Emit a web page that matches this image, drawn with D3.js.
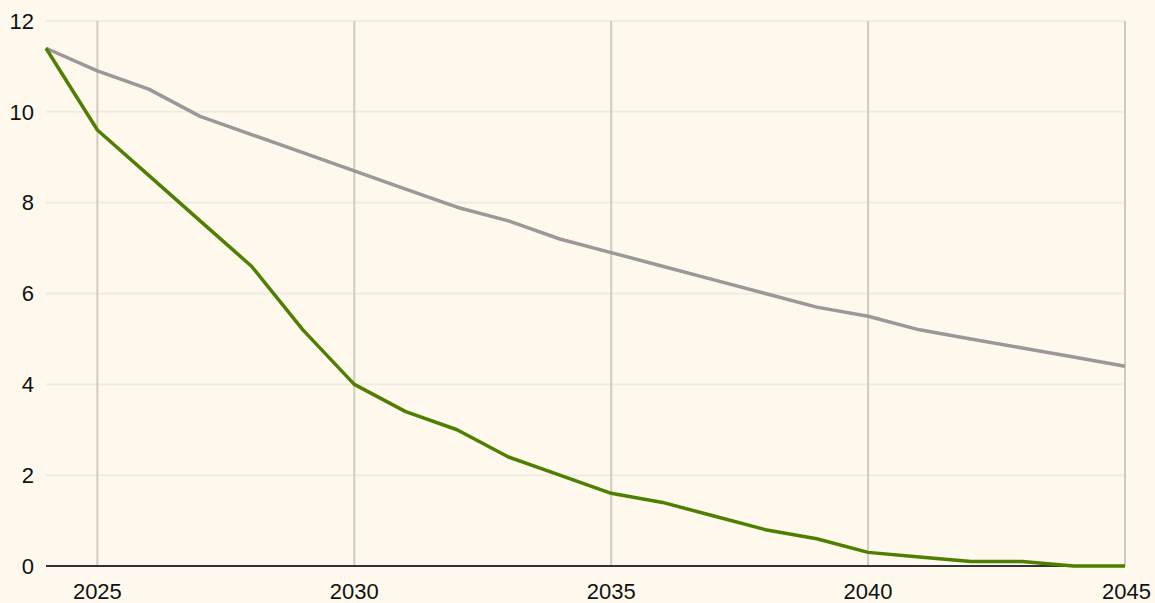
<!DOCTYPE html>
<html>
<head>
<meta charset="utf-8">
<script src="https://cdn.jsdelivr.net/npm/d3@7"></script>
<style>
  html, body { margin: 0; padding: 0; background: #fef9ec; }
  svg { display: block; }
  text { font-family: "Liberation Sans", Arial, sans-serif; }
</style>
</head>
<body>
<div id="chart"></div>
<script>
// data
const years = d3.range(2024, 2046)
const greySeries = [11.4, 10.9, 10.5, 9.9, 9.5, 9.1, 8.7, 8.3, 7.9, 7.6, 7.2, 6.9, 6.6, 6.3, 6.0, 5.7, 5.5, 5.2, 5.0, 4.8, 4.6, 4.4]
const greenSeries = [11.4, 9.6, 8.6, 7.6, 6.6, 5.2, 4.0, 3.4, 3.0, 2.4, 2.0, 1.6, 1.4, 1.1, 0.8, 0.6, 0.3, 0.2, 0.1, 0.1, 0, 0]
const xTicks = [2025, 2030, 2035, 2040, 2045]
const yTicks = [0, 2, 4, 6, 8, 10, 12]

const width = 1155, height = 603
const margin = { top: 21, right: 30, bottom: 37, left: 46 }

const svg = d3.select('#chart')
    .append('svg')
    .attr('width', width)
    .attr('height', height)

svg.append('rect')
    .attr('width', width)
    .attr('height', height)
    .attr('fill', '#fef9ec')

const x = d3.scaleLinear()
    .domain([2024, 2045])
    .range([margin.left, width - margin.right])

const y = d3.scaleLinear()
    .domain([0, 12])
    .range([height - margin.bottom, margin.top])

// horizontal grid
svg.append('g')
    .selectAll('line')
    .data(yTicks.filter(d => d > 0))
    .enter()
    .append('line')
    .attr('x1', x(2024))
    .attr('x2', x(2045))
    .attr('y1', d => y(d))
    .attr('y2', d => y(d))
    .attr('stroke', '#efece4')
    .attr('stroke-width', 2)

// vertical grid
svg.append('g')
    .selectAll('line')
    .data(xTicks)
    .enter()
    .append('line')
    .attr('x1', d => x(d))
    .attr('x2', d => x(d))
    .attr('y1', y(12))
    .attr('y2', y(0))
    .attr('stroke', '#cfcbc1')
    .attr('stroke-width', 2)

// y labels
svg.append('g')
    .selectAll('text')
    .data(yTicks)
    .enter()
    .append('text')
    .attr('x', 34)
    .attr('y', d => y(d))
    .attr('dy', '0.35em')
    .attr('text-anchor', 'end')
    .attr('font-size', 22)
    .attr('fill', '#111')
    .text(d => d)

// x labels
svg.append('g')
    .selectAll('text')
    .data(xTicks)
    .enter()
    .append('text')
    .attr('x', d => d === 2045 ? 1151 : x(d))
    .attr('y', 599)
    .attr('text-anchor', d => d === 2045 ? 'end' : 'middle')
    .attr('font-size', 22)
    .attr('fill', '#111')
    .text(d => d)

const line = d3.line()
    .x((d, i) => x(years[i]))
    .y(d => y(d))

svg.append('path')
    .datum(greySeries)
    .attr('d', line)
    .attr('fill', 'none')
    .attr('stroke', '#9a9899')
    .attr('stroke-width', 3.5)
    .attr('stroke-linejoin', 'round')

// baseline
svg.append('line')
    .attr('x1', x(2024))
    .attr('x2', x(2045))
    .attr('y1', y(0))
    .attr('y2', y(0))
    .attr('stroke', '#333')
    .attr('stroke-width', 2)

svg.append('path')
    .datum(greenSeries)
    .attr('d', line)
    .attr('fill', 'none')
    .attr('stroke', '#4f7f02')
    .attr('stroke-width', 3.5)
    .attr('stroke-linejoin', 'round')
</script>
</body>
</html>
